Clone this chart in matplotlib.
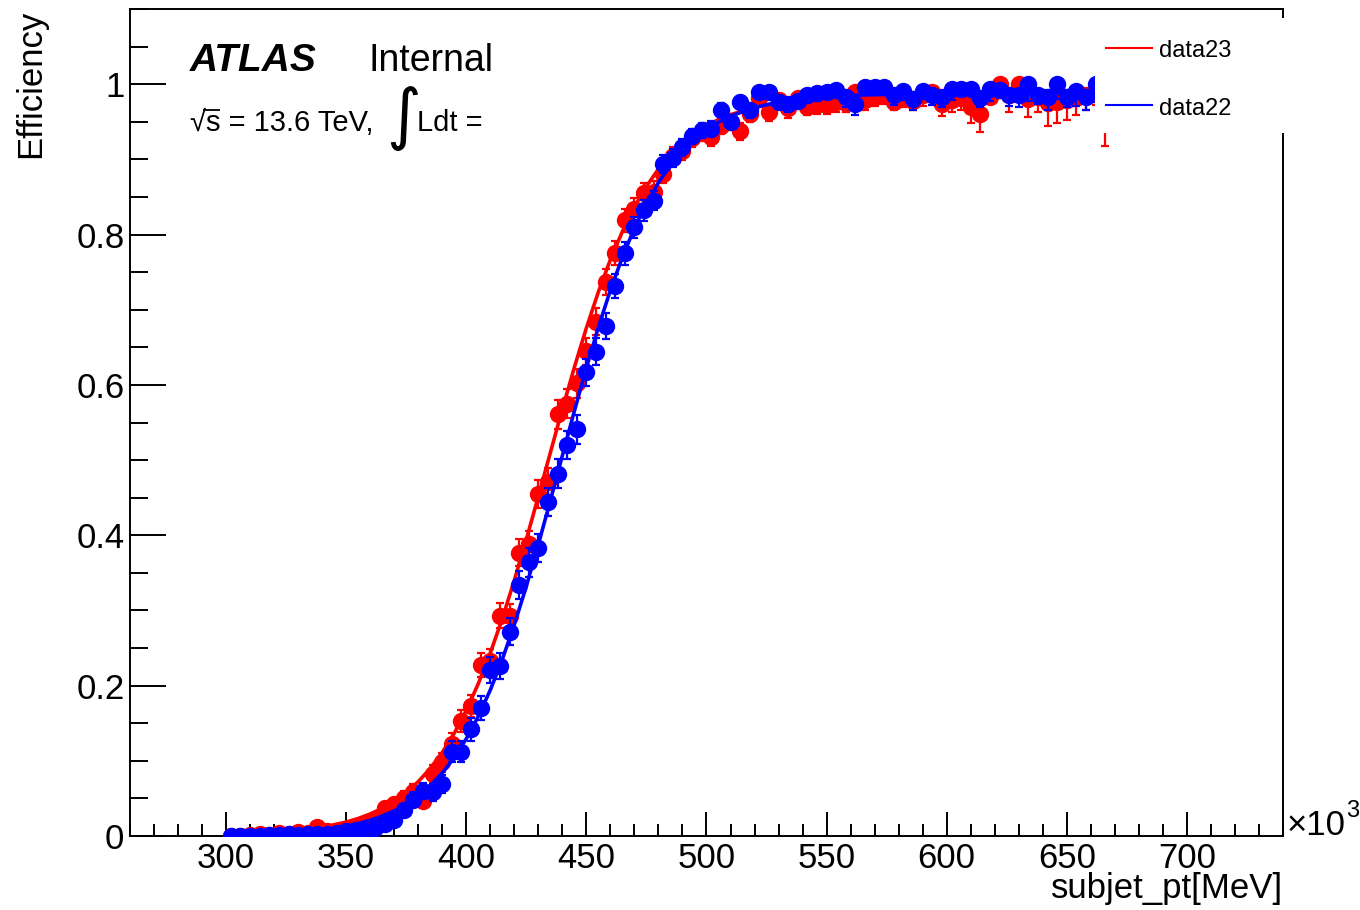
import numpy as np
import matplotlib
matplotlib.use("Agg")
import matplotlib.pyplot as plt
from matplotlib.patches import Rectangle
from matplotlib.lines import Line2D
from matplotlib.ticker import MultipleLocator, FixedLocator, FixedFormatter

plt.rcParams['font.family'] = ['Liberation Sans', 'DejaVu Sans']

# ---------------- data (x in units of 10^3 MeV) ----------------
pt_bins = [302, 306, 310, 314, 318, 322, 326, 330, 334, 338, 342, 346,
           350, 354, 358, 362, 366, 370, 374, 378, 382, 386, 390, 394,
           398, 402, 406, 410, 414, 418, 422, 426, 430, 434, 438, 442,
           446, 450, 454, 458, 462, 466, 470, 474, 478, 482, 486, 490,
           494, 498, 502, 506, 510, 514, 518, 522, 526, 530, 534, 538,
           542, 546, 550, 554, 558, 562, 566, 570, 574, 578, 582, 586,
           590, 594, 598, 602, 606, 610, 614, 618, 622, 626, 630, 634,
           638, 642, 646, 650, 654, 658, 662, 666]

eff_data22 = [0.000, 0.000, 0.000, 0.000, 0.001, 0.001, 0.002, 0.001, 0.002, 0.002, 0.003, 0.004,
              0.006, 0.008, 0.007, 0.010, 0.016, 0.021, 0.034, 0.048, 0.060, 0.058, 0.069, 0.112,
              0.112, 0.142, 0.170, 0.221, 0.226, 0.272, 0.334, 0.364, 0.383, 0.444, 0.482, 0.520,
              0.541, 0.617, 0.644, 0.678, 0.731, 0.775, 0.810, 0.832, 0.845, 0.894, 0.902, 0.916,
              0.931, 0.939, 0.941, 0.966, 0.950, 0.976, 0.965, 0.989, 0.990, 0.976, 0.973, 0.978,
              0.985, 0.988, 0.990, 0.992, 0.983, 0.974, 0.996, 0.996, 0.996, 0.985, 0.991, 0.980,
              0.991, 0.985, 0.983, 0.994, 0.994, 0.994, 0.981, 0.994, 0.992, 0.985, 0.985, 1.000,
              0.985, 0.983, 1.000, 0.983, 0.991, 0.983, 1.000, 0.990]

eff_data23 = [0.000, 0.000, 0.001, 0.002, 0.001, 0.004, 0.003, 0.005, 0.004, 0.012, 0.006, 0.007,
              0.009, 0.012, 0.016, 0.022, 0.037, 0.042, 0.051, 0.059, 0.047, 0.082, 0.098, 0.123,
              0.153, 0.173, 0.228, 0.233, 0.293, 0.292, 0.377, 0.388, 0.455, 0.471, 0.561, 0.575,
              0.602, 0.645, 0.684, 0.737, 0.776, 0.819, 0.834, 0.855, 0.857, 0.881, 0.905, 0.911,
              0.928, 0.936, 0.930, 0.944, 0.950, 0.938, 0.960, 0.982, 0.963, 0.979, 0.968, 0.982,
              0.970, 0.972, 0.972, 0.976, 0.975, 0.990, 0.979, 0.983, 0.985, 0.976, 0.982, 0.978,
              0.985, 0.990, 0.974, 0.979, 0.981, 0.970, 0.961, 0.983, 1.000, 0.985, 1.000, 0.980,
              0.983, 0.975, 0.976, 0.979, 0.981, 0.985, 0.990, 0.962]

err_lo_data22 = [0.001, 0.001, 0.001, 0.001, 0.001, 0.001, 0.002, 0.001, 0.002, 0.002, 0.002, 0.003,
                 0.003, 0.004, 0.004, 0.005, 0.006, 0.007,
                 0.008, 0.010, 0.011, 0.011, 0.012, 0.014, 0.014,
                 0.015, 0.016, 0.017, 0.017, 0.018, 0.019, 0.019, 0.019, 0.019, 0.019, 0.019, 0.019,
                 0.018, 0.018, 0.017, 0.016, 0.015, 0.014,
                 0.014, 0.013, 0.012, 0.012, 0.011, 0.010, 0.010, 0.010, 0.009,
                 0.010, 0.009, 0.010, 0.008, 0.008, 0.009, 0.010, 0.010,
                 0.010, 0.010, 0.010, 0.010, 0.014, 0.015, 0.008, 0.008, 0.009, 0.013, 0.012, 0.015,
                 0.011, 0.013, 0.014, 0.015, 0.010, 0.010, 0.011, 0.017, 0.011, 0.014, 0.015, 0.022,
                 0.012, 0.017, 0.020, 0.014, 0.020, 0.018, 0.024, 0.015]
err_hi_data22 = err_lo_data22[:52] + [
                 0.009, 0.008, 0.009, 0.006, 0.006, 0.008, 0.009, 0.008,
                 0.007, 0.006, 0.006, 0.005, 0.008, 0.010, 0.003, 0.003, 0.003, 0.008, 0.006, 0.010,
                 0.006, 0.008, 0.008, 0.005, 0.005, 0.005, 0.009, 0.005, 0.006, 0.008, 0.008, 0.000,
                 0.008, 0.009, 0.000, 0.009, 0.007, 0.009, 0.000, 0.006]

err_lo_data23 = [0.001, 0.001, 0.001, 0.002, 0.001, 0.002, 0.002, 0.003, 0.002, 0.004, 0.003, 0.003,
                 0.004, 0.004, 0.005, 0.006, 0.008, 0.008,
                 0.009, 0.010, 0.009, 0.012, 0.013, 0.014, 0.015,
                 0.015, 0.016, 0.016, 0.017, 0.017, 0.018, 0.018, 0.019, 0.019, 0.019, 0.019, 0.019,
                 0.018, 0.018, 0.017, 0.016, 0.015, 0.015,
                 0.014, 0.014, 0.013, 0.012, 0.012, 0.011, 0.011, 0.012, 0.010,
                 0.010, 0.012, 0.010, 0.008, 0.012, 0.010, 0.013, 0.010,
                 0.011, 0.011, 0.011, 0.013, 0.012, 0.008, 0.013, 0.012, 0.012, 0.011, 0.012, 0.013,
                 0.014, 0.010, 0.016, 0.016, 0.015, 0.021, 0.024, 0.008, 0.012, 0.022, 0.014, 0.023,
                 0.020, 0.030, 0.027, 0.027, 0.022, 0.020, 0.018, 0.044]
err_hi_data23 = err_lo_data23[:52] + [
                 0.009, 0.010, 0.009, 0.006, 0.010, 0.008, 0.010, 0.007,
                 0.010, 0.009, 0.009, 0.008, 0.008, 0.005, 0.008, 0.007, 0.007, 0.009, 0.008, 0.008,
                 0.007, 0.005, 0.010, 0.009, 0.008, 0.010, 0.012, 0.007, 0.000, 0.008, 0.000, 0.010,
                 0.009, 0.012, 0.012, 0.011, 0.010, 0.008, 0.006, 0.012]

# fitted turn-on curves
fit_x = [300, 310, 320, 330, 340, 350, 355, 360, 365, 370, 375, 380, 385, 390, 395, 400,
         405, 410, 415, 420, 425, 430, 435, 440, 445, 450, 455, 460, 465, 470, 475, 480,
         485, 490, 495, 500, 505, 510, 520, 530, 540, 550, 560, 580, 600, 640, 700, 740]
fit_data23 = [0.0018, 0.0028, 0.0045, 0.0073, 0.0116, 0.0185, 0.0233, 0.0293, 0.0369, 0.0463,
              0.0579, 0.0723, 0.0899, 0.1112, 0.1368, 0.1671, 0.2026, 0.2434, 0.2894, 0.3401,
              0.3946, 0.4518, 0.5100, 0.5678, 0.6235, 0.6758, 0.7238, 0.7667, 0.8042, 0.8367,
              0.8641, 0.8871, 0.9061, 0.9217, 0.9344, 0.9446, 0.9529, 0.9595, 0.9689, 0.9750,
              0.9787, 0.9811, 0.9826, 0.9840, 0.9846, 0.985, 0.985, 0.985]
fit_data22 = [0.0012, 0.0019, 0.0030, 0.0050, 0.0080, 0.0130, 0.0165, 0.0209, 0.0265, 0.0335,
              0.0423, 0.0533, 0.0670, 0.0838, 0.1044, 0.1293, 0.1592, 0.1942, 0.2349, 0.2812,
              0.3322, 0.3878, 0.4463, 0.5060, 0.5653, 0.6228, 0.6768, 0.7260, 0.7700, 0.8085,
              0.8415, 0.8691, 0.8924, 0.9113, 0.9268, 0.9394, 0.9495, 0.9575, 0.9690, 0.9762,
              0.9807, 0.9835, 0.9852, 0.9869, 0.9876, 0.988, 0.988, 0.988]

y_ticks = [0, 0.2, 0.4, 0.6, 0.8, 1.0]
y_tick_labels = ["0", "0.2", "0.4", "0.6", "0.8", "1"]
legend_labels = ["data23", "data22"]

# ---------------- figure ----------------
W, H = 1360, 910
fig = plt.figure(figsize=(13.6, 9.1), dpi=100, facecolor='white')


def fx(px):
    return px / W


def fy(py):
    return 1 - py / H


ax = fig.add_axes([fx(130), fy(836), fx(1283) - fx(130), fy(9) - fy(836)])
ax.set_xlim(260, 740)
ax.set_ylim(0, 1.1)

ms = 11.5
ax.errorbar(pt_bins, eff_data23, yerr=[err_lo_data23, err_hi_data23], fmt='o',
            color='#ff0000', mec='#ff0000', ms=ms, elinewidth=1.6, capsize=2.6,
            capthick=1.6, zorder=2)
ax.plot(fit_x, fit_data23, color='#ff0000', lw=2.6, zorder=3)
ax.errorbar(pt_bins, eff_data22, yerr=[err_lo_data22, err_hi_data22], fmt='o',
            color='#0000ff', mec='#0000ff', ms=ms, elinewidth=1.6, capsize=2.6,
            capthick=1.6, zorder=4)
ax.plot(fit_x, fit_data22, color='#0000ff', lw=2.6, zorder=5)

ax.xaxis.set_major_locator(MultipleLocator(50))
ax.xaxis.set_minor_locator(MultipleLocator(10))
ax.yaxis.set_major_locator(FixedLocator(y_ticks))
ax.yaxis.set_major_formatter(FixedFormatter(y_tick_labels))
ax.yaxis.set_minor_locator(MultipleLocator(0.05))
ax.tick_params(which='both', direction='in', top=False, right=False, width=1.4,
               labelsize=25)
ax.tick_params(axis='y', which='major', length=26, pad=4)
ax.tick_params(axis='y', which='minor', length=13)
ax.tick_params(axis='x', which='major', length=17, pad=4)
ax.tick_params(axis='x', which='minor', length=8.5)
for sp in ax.spines.values():
    sp.set_linewidth(1.4)

# axis titles
fig.text(fx(40), fy(10), 'Efficiency', rotation=90, rotation_mode='anchor',
         ha='right', va='baseline', fontsize=25)
fig.text(fx(1283), fy(898), 'subjet_pt[MeV]', ha='right', va='baseline', fontsize=25)
fig.text(fx(1287), fy(835), '×10', ha='left', va='baseline', fontsize=25)
fig.text(fx(1346), fy(817), '3', ha='left', va='baseline', fontsize=17)

# ATLAS label
fig.text(fx(190), fy(71), 'ATLAS', fontsize=28, fontweight='bold', fontstyle='italic',
         va='baseline')
fig.text(fx(369), fy(71), 'Internal', fontsize=27, va='baseline')
fig.text(fx(190), fy(131), '√s = 13.6 TeV,', fontsize=21, va='baseline')
fig.add_artist(Line2D([fx(204), fx(219)], [fy(110), fy(110)], color='black', lw=1.3,
                      transform=fig.transFigure))
fig.text(fx(386), fy(118), '∫', fontsize=48, va='center', ha='left',
         family=['DejaVu Sans'])
fig.text(fx(417), fy(131), 'Ldt =', fontsize=21, va='baseline')

# legend (white box covering the top-right corner)
box = Rectangle((fx(1095), fy(133)), fx(1297) - fx(1095), fy(18) - fy(133),
                transform=fig.transFigure, facecolor='white', edgecolor='none', zorder=5)
fig.add_artist(box)
for lab, col, ly, ty in [(legend_labels[0], '#ff0000', 48, 57),
                         (legend_labels[1], '#0000ff', 105, 115)]:
    fig.add_artist(Line2D([fx(1106), fx(1152)], [fy(ly), fy(ly)], color=col, lw=1.5,
                          transform=fig.transFigure, zorder=6))
    fig.text(fx(1159), fy(ty), lab, fontsize=17, va='baseline', ha='left', zorder=7)

fig.savefig('out.png', dpi=100, facecolor='white')
